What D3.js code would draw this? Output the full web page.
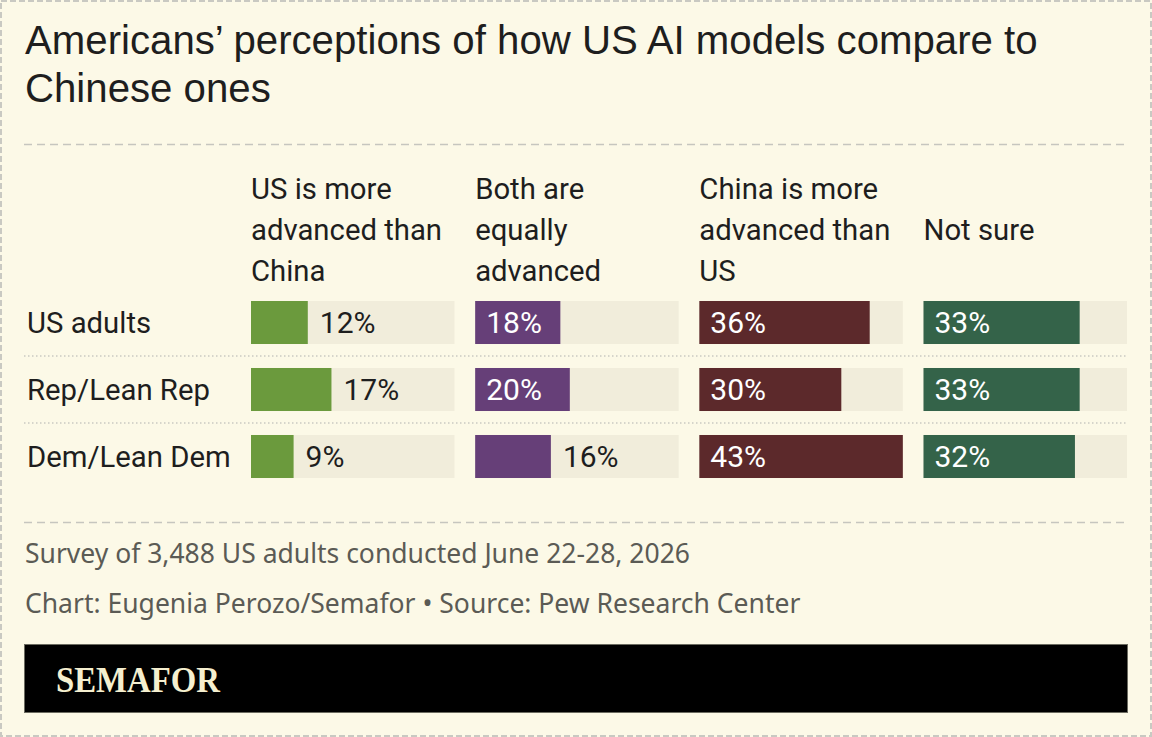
<!DOCTYPE html>
<html>
<head>
<meta charset="utf-8">
<script src="https://cdn.jsdelivr.net/npm/d3@7"></script>
<style>
  html, body { margin: 0; padding: 0; background: #fcf9e7; }
  svg { display: block; }
</style>
</head>
<body>
<svg id="chart" width="1152" height="737"></svg>
<script>
// ---- data ----
const titleLines = ["Americans’ perceptions of how US AI models compare to", "Chinese ones"];
const groups = ["US adults", "Rep/Lean Rep", "Dem/Lean Dem"];
const answers = ["US is more advanced than China", "Both are equally advanced", "China is more advanced than US", "Not sure"];
const answerLines = [["US is more", "advanced than", "China"], ["Both are", "equally", "advanced"], ["China is more", "advanced than", "US"], ["Not sure"]];
const usMore   = [12, 17, 9];
const bothEqual = [18, 20, 16];
const chinaMore = [36, 30, 43];
const notSure  = [33, 33, 32];
const seriesValues = [usMore, bothEqual, chinaMore, notSure];
const seriesColors = ["#6b9a3d", "#663f78", "#5c292b", "#346349"];
const noteText = "Survey of 3,488 US adults conducted June 22-28, 2026";
const creditText = "Chart: Eugenia Perozo/Semafor • Source: Pew Research Center";
const brandText = "SEMAFOR";

// ---- drawing ----
const W = 1152, H = 737;
const svg = d3.select("#chart");
const sans = "Roboto, 'Noto Sans', sans-serif";
const fs = 29.3;

svg.append("rect").attr("x", 0).attr("y", 0).attr("width", W).attr("height", H).attr("fill", "#fcf9e7");
svg.append("rect").attr("x", 1).attr("y", 1).attr("width", W - 2).attr("height", H - 2)
  .attr("fill", "none").attr("stroke", "#c9c9c2").attr("stroke-width", 2).attr("stroke-dasharray", "6,3");

// title
svg.append("g").selectAll("text").data(titleLines).join("text")
  .attr("x", 25).attr("y", (d, i) => 54 + i * 48)
  .attr("font-family", "'Liberation Sans', Arial, sans-serif").attr("font-size", 40.2)
  .attr("fill", "#1e1e1e").text(d => d);

const dashed = y => svg.append("line").attr("x1", 24).attr("x2", 1128).attr("y1", y).attr("y2", y)
  .attr("stroke", "#c6c6bf").attr("stroke-width", 1.5).attr("stroke-dasharray", "8,5");
dashed(144.5);
dashed(522.5);

// scales
const col = d3.scaleBand().domain(answers).range([251, 1127]).paddingInner(0.0922).paddingOuter(0);
const row = d3.scaleBand().domain(groups).range([289, 490]).paddingInner(0.358).paddingOuter(0.179);
const x = d3.scaleLinear().domain([0, 43]).range([0, col.bandwidth()]);

// headers
const lineH = 41;
answers.forEach((a, ai) => {
  const lines = answerLines[ai];
  const midBase = 240;
  svg.append("g").selectAll("text").data(lines).join("text")
    .attr("x", col(a))
    .attr("y", (d, i) => midBase + (i - (lines.length - 1) / 2) * lineH)
    .attr("font-family", sans).attr("font-size", fs).attr("fill", "#1e1e1e")
    .text(d => d);
});

// row labels
svg.append("g").selectAll("text").data(groups).join("text")
  .attr("x", 27).attr("y", d => row(d) + row.bandwidth() / 2 + 10.5)
  .attr("font-family", sans).attr("font-size", fs).attr("fill", "#1e1e1e").text(d => d);

// dotted separators
svg.append("g").selectAll("line").data(groups.slice(1)).join("line")
  .attr("x1", 24).attr("x2", 1128)
  .attr("y1", d => row(d) - (row.step() - row.bandwidth()) / 2)
  .attr("y2", d => row(d) - (row.step() - row.bandwidth()) / 2)
  .attr("stroke", "#c9c9c2").attr("stroke-width", 1.5).attr("stroke-dasharray", "1.5,2.5");

// bars
const insideMin = 18;
answers.forEach((a, ai) => {
  const g = svg.append("g");
  const vals = seriesValues[ai];
  const data = groups.map((gr, gi) => ({ gr, v: vals[gi] }));
  g.selectAll("rect.track").data(data).join("rect").attr("class", "track")
    .attr("x", col(a)).attr("y", d => row(d.gr)).attr("width", col.bandwidth()).attr("height", row.bandwidth())
    .attr("fill", "#f1eddb");
  g.selectAll("rect.bar").data(data).join("rect").attr("class", "bar")
    .attr("x", col(a)).attr("y", d => row(d.gr)).attr("width", d => x(d.v)).attr("height", row.bandwidth())
    .attr("fill", seriesColors[ai]);
  g.selectAll("text").data(data).join("text")
    .attr("x", d => d.v >= insideMin ? col(a) + 11 : col(a) + x(d.v) + 12)
    .attr("y", d => row(d.gr) + row.bandwidth() / 2 + 10.5)
    .attr("font-family", sans).attr("font-size", 30)
    .attr("fill", d => d.v >= insideMin ? "#ffffff" : "#1e1e1e")
    .text(d => d.v + "%");
});

// footer
const footFont = "'Noto Sans', Roboto, sans-serif";
svg.append("text").attr("x", 25).attr("y", 563).attr("font-family", footFont).attr("font-size", 26.5)
  .attr("fill", "#5b5b55").text(noteText);
svg.append("text").attr("x", 25).attr("y", 613).attr("font-family", footFont).attr("font-size", 26.5)
  .attr("fill", "#5b5b55").text(creditText);

svg.append("rect").attr("x", 24.5).attr("y", 644.5).attr("width", 1103).attr("height", 68)
  .attr("fill", "#000").attr("stroke", "#6b6b60").attr("stroke-width", 1);
svg.append("text").attr("x", 56).attr("y", 692)
  .attr("font-family", "'Liberation Serif', 'DejaVu Serif', serif").attr("font-weight", "bold")
  .attr("font-size", 36).attr("fill", "#f5efcf")
  .attr("textLength", 164).attr("lengthAdjust", "spacingAndGlyphs").text(brandText);
</script>
</body>
</html>
